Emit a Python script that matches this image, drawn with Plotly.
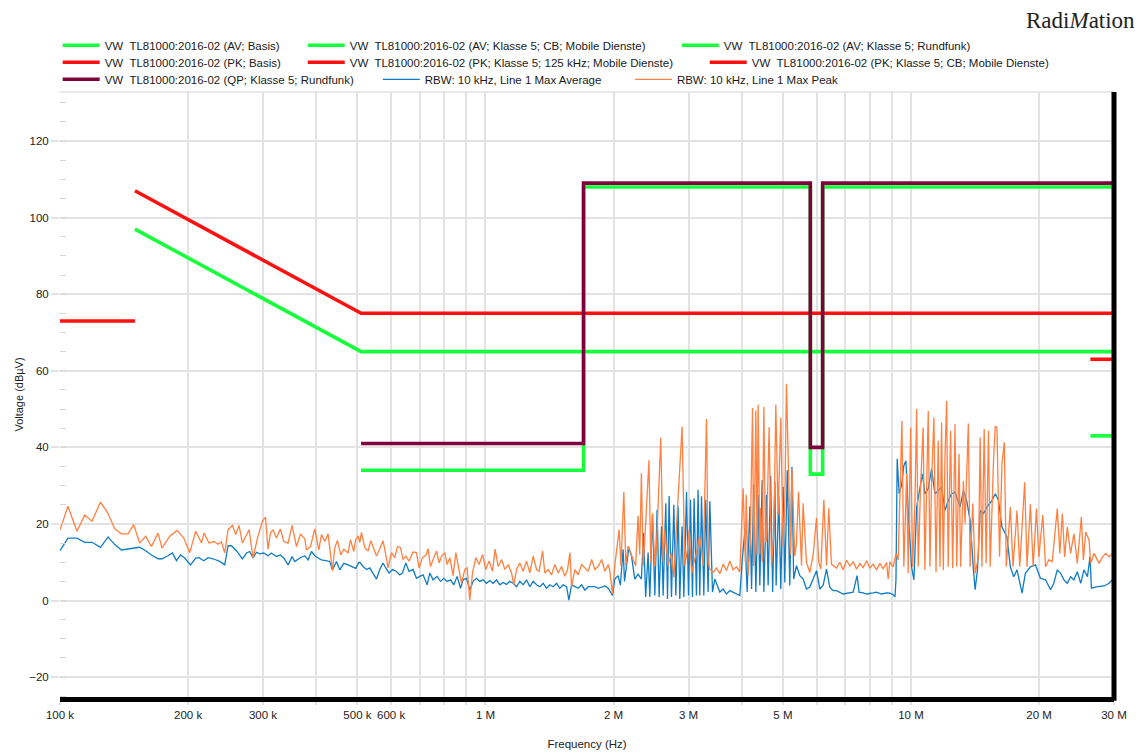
import numpy as np
import plotly.graph_objects as go

# ---------------- limit lines (frequency in MHz, level in dBuV) ----------------
av_basis_f = [0.15, 0.51, 30.0]
av_basis_v = [97, 65, 65]
av_cb_f = [26.4, 30.0]
av_cb_v = [43, 43]
av_rf_f = [0.51, 1.7, 1.7, 5.8, 5.8, 6.2, 6.2, 30.0]
av_rf_v = [34, 34, 108, 108, 33, 33, 108, 108]
pk_basis_f = [0.15, 0.51, 30.0]
pk_basis_v = [107, 75, 75]
pk_125k_f = [0.10, 0.15]
pk_125k_v = [73, 73]
pk_cb_f = [26.4, 30.0]
pk_cb_v = [63, 63]
qp_rf_f = [0.51, 1.7, 1.7, 5.8, 5.8, 6.2, 6.2, 30.0]
qp_rf_v = [41, 41, 109, 109, 40, 40, 109, 109]
# thin closing strokes at 30 MHz
pk_close_f = [30.0, 30.0]
pk_close_v = [75, 63]
av_close_f = [30.0, 30.0]
av_close_v = [65, 55]

# ---------------- measurement: RBW 10 kHz, Line 1 Max Peak ----------------
peak_f = [
    0.1000, 0.1044, 0.1096, 0.1143, 0.1189, 0.1245, 0.1297, 0.1345, 0.1394, 0.1445,
    0.1490, 0.1539, 0.1590, 0.1640, 0.1700, 0.1737, 0.1811, 0.1884, 0.1954, 0.2018,
    0.2084, 0.2150, 0.2180, 0.2240, 0.2301, 0.2352, 0.2395, 0.2439, 0.2483, 0.2543,
    0.2588, 0.2635, 0.2684, 0.2782, 0.2843, 0.2911, 0.2991, 0.3040, 0.3083, 0.3123,
    0.3167, 0.3226, 0.3296, 0.3356, 0.3436, 0.3511, 0.3596, 0.3675, 0.3761, 0.3796,
    0.3879, 0.3970, 0.4057, 0.4117, 0.4191, 0.4266, 0.4368, 0.4423, 0.4488, 0.4569,
    0.4644, 0.4753, 0.4815, 0.4902, 0.4955, 0.5018,
    0.5065, 0.5111, 0.5204, 0.5297, 0.5376, 0.5463, 0.5544, 0.5643, 0.5745, 0.5830,
    0.5903, 0.6012, 0.6121, 0.6210, 0.6312, 0.6401, 0.6496, 0.6613, 0.6757, 0.6883,
    0.6981, 0.7111, 0.7240, 0.7331, 0.7426, 0.7531, 0.7671, 0.7780, 0.7883, 0.8024,
    0.8125, 0.8245, 0.8393, 0.8517, 0.8624, 0.8784, 0.8941, 0.9053, 0.9187, 0.9321,
    0.9490, 0.9661, 0.9839, 1.0017, 1.0197, 1.0387, 1.0534, 1.0707, 1.0906, 1.1104,
    1.1303, 1.1513, 1.1657, 1.1830, 1.2042, 1.2260, 1.2488, 1.2712, 1.2942, 1.3183,
    1.3370, 1.3619, 1.3789, 1.4036, 1.4297, 1.4556, 1.4817, 1.5092, 1.5366, 1.5590,
    1.5789, 1.5935, 1.6221, 1.6515, 1.6822, 1.7123, 1.7434, 1.7758, 1.8076, 1.8404,
    1.8746, 1.9083, 1.9429,
    1.959, 1.988, 2.013, 2.061, 2.081, 2.114, 2.137, 2.163, 2.222, 2.254,
    2.283, 2.304, 2.325, 2.347, 2.368, 2.422, 2.446, 2.469, 2.500, 2.523,
    2.582, 2.615, 2.639, 2.686, 2.736, 2.771, 2.811, 2.873, 2.898, 2.940,
    2.981, 3.010, 3.051, 3.075, 3.132, 3.189, 3.247, 3.307, 3.336, 3.367,
    3.427, 3.490, 3.554, 3.619, 3.685, 3.752, 3.819, 3.889, 3.960,
    4.032, 4.080, 4.100, 4.140, 4.190, 4.242, 4.270, 4.295, 4.319, 4.349,
    4.373, 4.413, 4.430, 4.469, 4.510, 4.550, 4.576, 4.640, 4.702, 4.760,
    4.812, 4.872, 4.943, 5.005, 5.051, 5.097, 5.160, 5.210, 5.250, 5.331,
    5.381, 5.440, 5.530, 5.578, 5.681, 5.784, 5.889, 5.998, 6.070, 6.140,
    6.240, 6.332, 6.410, 6.500, 6.684, 6.804, 6.927, 7.056, 7.183, 7.312,
    7.448, 7.581, 7.718, 7.862, 8.004, 8.150, 8.299, 8.450, 8.600, 8.760,
    8.840,
    8.92, 9.08, 9.22, 9.33, 9.45, 9.52, 9.62, 9.77, 9.85, 9.98,
    10.09, 10.21, 10.31, 10.40, 10.53, 10.68, 10.78, 10.98, 11.08, 11.18,
    11.32, 11.45, 11.59, 11.70, 11.80, 11.91, 12.02, 12.13, 12.23, 12.39,
    12.53, 12.69, 12.81, 12.97, 13.08, 13.28, 13.40, 13.64, 13.77, 13.97,
    14.15, 14.41, 14.54, 14.68, 14.86, 15.02, 15.21, 15.35, 15.63, 15.78,
    15.92, 16.15, 16.36, 16.57, 16.75, 17.12, 17.37, 17.75, 18.01, 18.50,
    18.74, 19.08, 19.37, 19.72, 19.97, 20.41, 20.71, 21.08, 21.48, 22.07,
    22.38, 22.68, 22.97, 23.30, 23.72, 24.15, 24.60, 25.14, 25.42, 25.74,
    26.21, 26.45, 26.93, 27.67, 28.19, 28.70, 29.22, 29.76,
]
peak_v = [
    18.5, 24.6, 18.1, 22.3, 20.7, 25.7, 22.7, 18.7, 17.4, 17.4,
    19.8, 15.0, 16.8, 14.1, 17.6, 13.7, 16.8, 18.3, 16.3, 12.5,
    18.1, 15.0, 17.6, 15.0, 15.4, 14.7, 15.3, 12.4, 18.5, 19.6,
    17.2, 19.6, 15.0, 18.5, 11.1, 16.3, 20.7, 21.8, 13.4, 17.6,
    18.5, 16.3, 18.7, 15.4, 15.0, 19.6, 14.1, 17.4, 16.1, 13.2,
    14.1, 18.7, 13.2, 17.2, 15.4, 17.4, 7.8, 13.7, 15.7, 11.9,
    13.4, 12.4, 15.9, 12.8, 15.9, 16.9,
    15.1, 17.8, 13.8, 12.9, 15.6, 13.4, 11.6, 13.5, 15.6, 12.0,
    8.5, 12.5, 11.2, 14.1, 13.8, 10.7, 11.6, 10.3, 12.7, 12.5,
    8.5, 11.2, 11.8, 13.5, 8.9, 10.7, 12.9, 9.8, 11.6, 12.5,
    9.4, 11.2, 6.5, 12.5, 9.4, 4.5, 8.1, 8.5, 0.1, 7.2,
    11.2, 9.4, 12.0, 8.1, 10.3, 7.6, 13.4, 8.9, 10.7, 8.1,
    9.4, 7.2, 4.1, 8.1, 9.8, 7.6, 10.3, 7.2, 11.6, 8.1,
    7.6, 12.9, 7.2, 8.1, 6.7, 9.4, 7.2, 8.9, 6.3, 8.1,
    12.5, 3.6, 8.1, 6.7, 9.4, 8.5, 7.6, 10.7, 8.1, 8.9,
    10.7, 7.6, 9.4,
    7.8, 1.7, 9.1, 18.5, 9.0, 28.4, 9.1, 14.2, 10.8, 9.0,
    22.1, 12.0, 33.2, 9.0, 15.9, 36.6, 10.0, 22.8, 9.0, 14.2,
    42.5, 10.0, 18.5, 9.1, 12.5, 6.0, 19.4, 39.2, 45.4, 9.1,
    13.0, 18.5, 7.0, 9.0, 12.5, 16.8, 9.1, 47.4, 10.0, 8.2,
    7.3, 8.5, 7.0, 9.5, 7.8, 10.3, 8.0, 8.8, 7.5,
    29.3, 10.0, 27.6, 6.5, 15.0, 50.3, 9.0, 30.2, 49.6, 12.0,
    51.1, 12.0, 24.1, 10.0, 50.6, 15.0, 15.9, 45.3, 9.1, 18.0,
    51.1, 22.4, 47.8, 14.2, 25.0, 56.6, 31.2, 12.0, 34.5, 11.6,
    15.0, 28.4, 9.1, 25.4, 9.9, 7.3, 12.0, 21.6, 10.0, 8.2,
    26.3, 9.1, 24.1, 9.5, 8.5, 10.0, 8.0, 10.5, 9.0, 10.1,
    8.2, 9.7, 8.6, 10.4, 8.5, 9.5, 8.0, 9.7, 8.3, 9.9,
    5.6,
    10.1, 8.8, 12.3, 10.6, 36.5, 46.9, 8.8, 33.1, 7.1, 45.2,
    8.8, 24.4, 50.0, 8.8, 29.6, 45.2, 8.0, 49.5, 8.8, 31.3,
    47.8, 7.4, 41.7, 8.8, 46.5, 8.0, 37.4, 52.1, 8.8, 44.3,
    8.4, 46.1, 8.8, 38.3, 8.8, 31.3, 20.1, 46.2, 8.8, 25.3,
    7.1, 11.4, 42.6, 8.8, 44.8, 9.7, 44.3, 8.8, 36.5, 45.6,
    45.2, 11.4, 35.7, 41.3, 8.8, 24.4, 8.8, 23.5, 8.8, 30.9,
    8.8, 25.1, 8.8, 24.0, 11.4, 22.3, 8.8, 10.6, 10.2, 24.0,
    12.3, 22.7, 11.4, 19.2, 12.3, 17.5, 9.7, 21.8, 10.6, 17.9,
    15.8, 9.7, 12.3, 9.7, 11.4, 12.3, 11.4, 12.3,
]

# ---------------- measurement: RBW 10 kHz, Line 1 Max Average ----------------
avg_f = [
    0.1000, 0.1044, 0.1096, 0.1143, 0.1189, 0.1245, 0.1297, 0.1345, 0.1394, 0.1445,
    0.1539, 0.1590, 0.1640, 0.1700, 0.1737, 0.1794, 0.1837, 0.1878, 0.1919, 0.1964,
    0.2026, 0.2084, 0.2122, 0.2177, 0.2228, 0.2289, 0.2373, 0.2439, 0.2483, 0.2529,
    0.2598, 0.2684, 0.2743, 0.2792, 0.2843, 0.2896, 0.2947, 0.3012, 0.3083, 0.3140,
    0.3226, 0.3296, 0.3356, 0.3436, 0.3511, 0.3563, 0.3661, 0.3761, 0.3829, 0.3900,
    0.3970, 0.4042, 0.4117, 0.4214, 0.4305, 0.4368, 0.4464, 0.4545, 0.4644, 0.4753,
    0.4859, 0.4955, 0.5037,
    0.5065, 0.5156, 0.5252, 0.5346, 0.5443, 0.5544, 0.5643, 0.5745, 0.5830, 0.5935,
    0.6045, 0.6177, 0.6288, 0.6381, 0.6496, 0.6613, 0.6757, 0.6883, 0.7008, 0.7134,
    0.7291, 0.7399, 0.7531, 0.7696, 0.7839, 0.7982, 0.8125, 0.8276, 0.8426, 0.8576,
    0.8736, 0.8859, 0.9024, 0.9187, 0.9351, 0.9525, 0.9697, 0.9872, 1.0054, 1.0235,
    1.0421, 1.0615, 1.0807, 1.1002, 1.1206, 1.1407, 1.1613, 1.1830, 1.2042, 1.2260,
    1.2488, 1.2712, 1.2942, 1.3183, 1.3420, 1.3666, 1.3917, 1.4166, 1.4423, 1.4691,
    1.4954, 1.5230, 1.5508, 1.5702, 1.5935, 1.6221, 1.6515, 1.6822, 1.7123, 1.7434,
    1.7758, 1.8076, 1.8404, 1.8746, 1.9083, 1.9429,
    1.959, 1.988, 2.013, 2.049, 2.075, 2.106, 2.122, 2.145, 2.172, 2.204,
    2.243, 2.283, 2.325, 2.352, 2.379, 2.411, 2.433, 2.469, 2.500, 2.531,
    2.559, 2.592, 2.615, 2.653, 2.678, 2.701, 2.736, 2.771, 2.801, 2.836,
    2.862, 2.898, 2.925, 2.968, 3.000, 3.032, 3.065, 3.092, 3.132, 3.159,
    3.189, 3.219, 3.259, 3.294, 3.336, 3.367, 3.416, 3.459, 3.554, 3.619,
    3.685, 3.752, 3.819, 3.889, 3.960,
    4.014, 4.069, 4.120, 4.181, 4.220, 4.270, 4.319, 4.373, 4.413, 4.469,
    4.510, 4.576, 4.616, 4.680, 4.730, 4.787, 4.820, 4.890, 4.943, 5.005,
    5.051, 5.120, 5.190, 5.250, 5.300, 5.381, 5.479, 5.578, 5.681, 5.784,
    5.889, 5.998, 6.106, 6.217, 6.332, 6.446, 6.562, 6.684, 6.927, 7.183,
    7.312, 7.470, 7.550, 7.718, 7.862, 8.150, 8.299, 8.520, 8.760, 8.920,
    9.08, 9.17, 9.22, 9.28, 9.38, 9.50, 9.62, 9.73, 9.85, 10.03,
    10.16, 10.31, 10.49, 10.64, 10.78, 10.98, 11.18, 11.38, 11.59, 11.80,
    12.02, 12.23, 12.46, 12.69, 13.04, 13.28, 13.52, 13.77, 14.02, 14.15,
    14.33, 14.54, 14.80, 15.08, 15.50, 15.78, 16.06, 16.36, 16.81, 17.12,
    17.43, 17.75, 18.24, 18.57, 19.08, 19.61, 20.15, 20.71, 21.28, 21.66,
    22.07, 22.47, 22.88, 23.30, 23.72, 24.15, 24.60, 25.05, 25.50, 25.98,
    26.35, 26.55, 27.43, 28.43, 29.22, 29.76,
]
avg_v = [
    13.0, 16.3, 16.3, 15.2, 15.2, 13.9, 16.6, 14.6, 13.2, 13.5,
    13.9, 13.0, 11.9, 10.9, 10.9, 11.7, 12.4, 10.4, 11.9, 11.1,
    9.3, 11.1, 11.2, 10.4, 11.2, 10.9, 10.2, 9.3, 14.3, 14.3,
    13.0, 10.9, 12.4, 12.8, 11.1, 12.6, 12.2, 12.4, 11.7, 12.4,
    11.5, 11.9, 11.1, 9.3, 11.5, 10.2, 11.1, 11.7, 10.6, 12.8,
    11.7, 11.1, 10.6, 10.4, 10.2, 8.0, 10.2, 8.0, 9.7, 9.3,
    8.9, 8.4, 9.9,
    10.0, 8.9, 8.1, 8.5, 7.2, 5.6, 8.1, 9.8, 8.5, 7.2,
    8.1, 7.6, 6.7, 7.2, 9.8, 7.6, 8.1, 5.8, 6.3, 6.7,
    4.1, 7.2, 5.4, 6.3, 5.0, 5.8, 5.0, 5.4, 4.1, 6.3,
    3.2, 5.4, 5.8, 2.7, 5.0, 5.8, 5.0, 5.4, 4.5, 5.2,
    4.5, 5.4, 4.1, 4.7, 4.2, 5.0, 4.5, 3.6, 5.0, 4.1,
    5.4, 3.6, 5.0, 4.1, 3.6, 4.5, 3.2, 4.1, 3.6, 4.5,
    3.2, 4.1, 3.6, 0.1, 4.1, 3.6, 3.2, 4.1, 2.7, 3.6,
    3.5, 3.6, 3.2, 3.6, 3.8, 3.2,
    2.6, 1.3, 5.6, 6.5, 4.0, 13.4, 5.0, 9.1, 13.8, 11.6,
    5.6, 6.9, 5.6, 17.7, 0.9, 12.5, 0.9, 22.4, 1.3, 23.7,
    0.9, 19.4, 1.3, 25.4, 0.4, 27.3, 0.9, 25.0, 1.3, 24.6,
    0.4, 19.4, 0.9, 28.4, 1.3, 26.3, 0.9, 26.7, 1.3, 28.9,
    1.3, 27.2, 1.3, 26.3, 2.2, 25.9, 2.2, 5.6, 2.2, 3.0,
    1.7, 2.6, 2.2, 1.9, 1.3,
    10.8, 18.1, 2.2, 24.6, 3.0, 30.2, 2.2, 27.6, 3.9, 31.5,
    2.2, 27.6, 3.9, 32.6, 2.2, 31.0, 3.9, 27.2, 3.0, 29.7,
    4.7, 34.0, 3.9, 34.9, 5.6, 9.1, 6.5, 5.6, 3.0, 3.5,
    5.6, 7.8, 3.0, 4.0, 8.2, 3.4, 2.6, 2.6, 1.7, 2.0,
    2.2, 6.5, 2.2, 2.0, 1.7, 2.0, 2.2, 1.7, 2.0, 1.9,
    1.5, 1.0, 5.4, 37.0, 27.9, 30.0, 35.2, 36.5, 23.5, 8.8,
    5.4, 24.4, 28.7, 33.1, 27.9, 29.2, 34.4, 27.9, 28.7, 29.6,
    23.5, 26.1, 27.9, 28.3, 24.4, 28.7, 26.1, 20.9, 8.0, 2.8,
    8.0, 23.5, 22.7, 24.4, 26.1, 27.9, 26.1, 19.2, 16.6, 8.8,
    6.2, 8.0, 1.9, 7.1, 8.8, 9.3, 5.8, 5.4, 2.8, 4.5,
    8.0, 7.1, 5.4, 4.5, 6.2, 5.4, 7.5, 4.5, 8.0, 6.2,
    11.4, 3.2, 3.6, 3.8, 4.5, 5.5,
]

# ---------------- axis ticks ----------------
x_tick_mhz = [0.1, 0.2, 0.3, 0.4, 0.5, 0.6, 0.7, 0.8, 0.9,
              1, 2, 3, 4, 5, 6, 7, 8, 9, 10, 20, 30]
x_tick_text = ["100 k", "200 k", "300 k", "", "500 k", "600 k", "", "", "",
               "1 M", "2 M", "3 M", "", "5 M", "", "", "", "", "10 M", "20 M", "30 M"]
y_tick_vals = [-20, 0, 20, 40, 60, 80, 100, 120]

MHZ = 1e6
GREEN = "#17ff3c"
RED = "#ff1111"
MAROON = "#80003e"
BLUE = "#0f7cc4"
ORANGE = "#ff8040"
FONT = "Liberation Sans, Arial, sans-serif"

series = [
    ("VW  TL81000:2016-02 (AV; Basis)", av_basis_f, av_basis_v, GREEN, 3.6, "legend"),
    ("VW  TL81000:2016-02 (AV; Klasse 5; CB; Mobile Dienste)", av_cb_f, av_cb_v, GREEN, 3.6, "legend2"),
    ("VW  TL81000:2016-02 (AV; Klasse 5; Rundfunk)", av_rf_f, av_rf_v, GREEN, 3.6, "legend3"),
    ("VW  TL81000:2016-02 (PK; Basis)", pk_basis_f, pk_basis_v, RED, 3.6, "legend4"),
    ("VW  TL81000:2016-02 (PK; Klasse 5; 125 kHz; Mobile Dienste)", pk_125k_f, pk_125k_v, RED, 3.6, "legend5"),
    ("VW  TL81000:2016-02 (PK; Klasse 5; CB; Mobile Dienste)", pk_cb_f, pk_cb_v, RED, 3.6, "legend6"),
    ("VW  TL81000:2016-02 (QP; Klasse 5; Rundfunk)", qp_rf_f, qp_rf_v, MAROON, 3.6, "legend7"),
    ("RBW: 10 kHz, Line 1 Max Average", avg_f, avg_v, BLUE, 1.3, "legend8"),
    ("RBW: 10 kHz, Line 1 Max Peak", peak_f, peak_v, ORANGE, 1.3, "legend9"),
]

fig = go.Figure()

# thin closing strokes (no legend)
fig.add_trace(go.Scatter(x=np.array(pk_close_f) * MHZ, y=pk_close_v, mode="lines",
                         line=dict(color=RED, width=1), showlegend=False, hoverinfo="skip"))
fig.add_trace(go.Scatter(x=np.array(av_close_f) * MHZ, y=av_close_v, mode="lines",
                         line=dict(color=GREEN, width=1), showlegend=False, hoverinfo="skip"))

for name, f, v, color, width, lg in series:
    fig.add_trace(go.Scatter(
        x=np.array(f) * MHZ, y=v, mode="lines", name=name,
        line=dict(color=color, width=width), legend=lg,
    ))

# legend placement (one row-slot per entry, like the original flowing legend)
legend_slots = {
    "legend": (-0.0022, 1.0772), "legend2": (0.2303, 1.0772), "legend3": (0.5852, 1.0772),
    "legend4": (-0.0022, 1.0491), "legend5": (0.2303, 1.0491), "legend6": (0.6117, 1.0491),
    "legend7": (-0.0022, 1.0210), "legend8": (0.3015, 1.0210), "legend9": (0.5407, 1.0210),
}
legend_layout = {}
for key, (lx, ly) in legend_slots.items():
    legend_layout[key] = dict(
        x=lx, y=ly, xanchor="left", yanchor="middle", orientation="h",
        bgcolor="rgba(0,0,0,0)", borderwidth=0, itemwidth=37,
        font=dict(family=FONT, size=11.5, color="#1a1a1a"),
        itemclick=False, itemdoubleclick=False,
    )

GRID = "#e2e2e2"
fig.update_layout(
    width=1139, height=754,
    margin=dict(l=60, r=25, t=92, b=57, autoexpand=False),
    paper_bgcolor="white", plot_bgcolor="white",
    font=dict(family=FONT, size=11.5, color="#222"),
    **legend_layout,
    xaxis=dict(
        type="log", range=[np.log10(1e5), np.log10(3e7)],
        tickvals=np.array(x_tick_mhz) * MHZ, ticktext=x_tick_text,
        showgrid=True, gridcolor=GRID, gridwidth=1.5,
        ticks="outside", ticklen=3, tickcolor=GRID, tickwidth=1.5,
        showline=True, linecolor="black", linewidth=5,
        zeroline=False, automargin=False,
        title=dict(text="Frequency (Hz)", font=dict(size=11.5), standoff=22),
        tickfont=dict(size=11.5, color="#222"),
    ),
    yaxis=dict(
        range=[-25.2, 132.8], tickvals=y_tick_vals,
        showgrid=True, gridcolor=GRID, gridwidth=1.5,
        ticks="outside", ticklen=8, tickcolor=GRID, tickwidth=1.5,
        minor=dict(dtick=5, ticks="inside", ticklen=6, tickcolor="#d6d6d6", tickwidth=1.2,
                   showgrid=False),
        showline=False, zeroline=False, automargin=False,
        title=dict(text="Voltage (dBµV)", font=dict(size=11), standoff=3),
        tickfont=dict(size=11.5, color="#222"),
    ),
    shapes=[
        dict(type="line", xref="paper", yref="paper", x0=1, x1=1, y0=-0.006, y1=1,
             line=dict(color="black", width=5), layer="above"),
        dict(type="line", xref="paper", yref="paper", x0=0, x1=1, y0=1, y1=1,
             line=dict(color=GRID, width=1.5), layer="below"),
    ],
    annotations=[
        dict(text="Radi<i>M</i>ation", xref="paper", yref="paper", x=1.0218, y=1.1185,
             xanchor="right", yanchor="middle", showarrow=False,
             font=dict(family="Liberation Serif, Times New Roman, serif", size=23, color="#222")),
    ],
)

# the page body has a default 8px margin; remove it so the figure fills the window exactly
fig.write_html(
    "out.html",
    config={"displayModeBar": False},
    post_script="document.body.style.margin='0';document.body.style.overflow='hidden';",
)
